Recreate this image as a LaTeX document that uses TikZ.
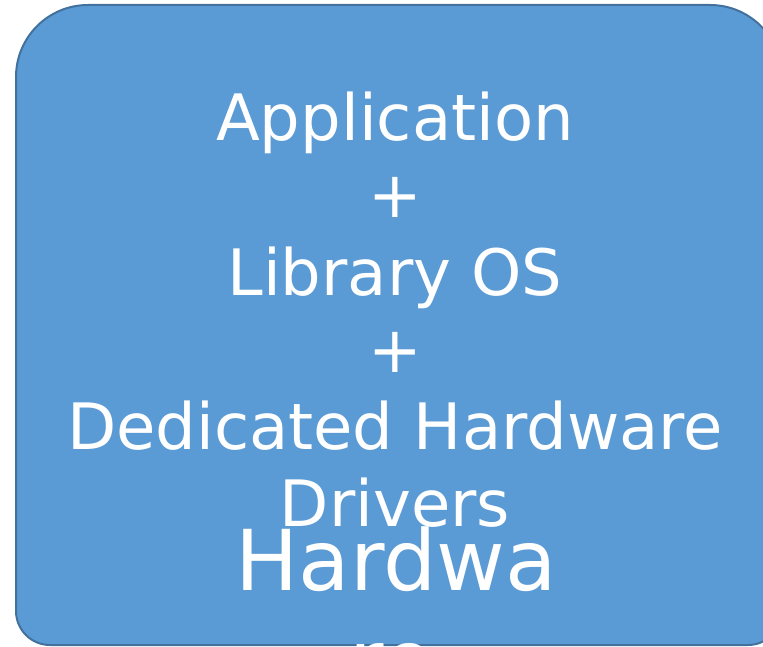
\documentclass[tikz,border=0pt]{standalone}
\usepackage{fontspec}
\newfontfamily\dejavu{DejaVu Sans}
\definecolor{boxfill}{HTML}{5B9BD5}
\definecolor{boxline}{HTML}{41719C}
\tikzset{
  boxshape/.style={fill=boxfill, draw=boxline, line width=2bp},
  txt/.style={anchor=base, text=white, inner sep=0pt, font=\dejavu\fontsize{64bp}{77bp}\selectfont},
  bigtxt/.style={anchor=base, text=white, inner sep=0pt, font=\dejavu\fontsize{84bp}{100bp}\selectfont}
}
\begin{document}
\begin{tikzpicture}[x=1bp, y=-1bp]
\useasboundingbox (0,0) rectangle (763,647);
\draw[boxshape] (16,400) [rounded corners=72bp] -- (16,5) -- (782,5) -- (782,400)
  [rounded corners=34bp] -- (782,645) -- (16,645) -- cycle;
\node[txt] (l1) at (395,141) {Application};
\node[txt] (l2) at (395,218) {+};
\node[txt] (l3) at (395,295) {Library OS};
\node[txt] (l4) at (395,372) {+};
\node[txt] (l5) at (395,449) {Dedicated Hardware};
\node[txt] (l6) at (395,526) {Drivers};
\node[bigtxt] (h1) at (396,590) {Hardwa};
\node[bigtxt] (h2) at (392,690) {re};
\end{tikzpicture}
\end{document}
